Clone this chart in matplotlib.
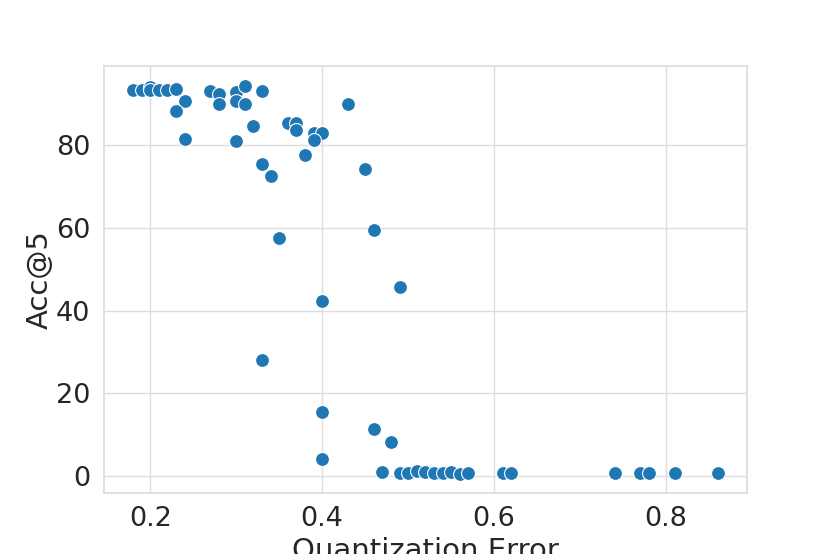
import matplotlib
matplotlib.use("Agg")
import matplotlib.pyplot as plt
import seaborn as sns

quant_error = [0.18, 0.19, 0.20, 0.20, 0.21, 0.22, 0.23, 0.24, 0.23, 0.24,
               0.27, 0.28, 0.28, 0.30, 0.31, 0.30, 0.31, 0.33, 0.30, 0.32,
               0.36, 0.37, 0.37, 0.39, 0.40, 0.39, 0.43, 0.33, 0.34, 0.38,
               0.45, 0.35, 0.46, 0.40, 0.49, 0.33, 0.40, 0.40, 0.46, 0.48,
               0.47, 0.49, 0.50, 0.51, 0.52, 0.53, 0.54, 0.55, 0.56, 0.57,
               0.61, 0.62, 0.74, 0.77, 0.78, 0.81, 0.86]
acc5 = [93.5, 93.3, 94.2, 93.5, 93.3, 93.3, 93.6, 90.7, 88.2, 81.6,
        93.2, 92.5, 90.1, 92.8, 94.4, 90.7, 90.1, 93.1, 81.0, 84.8,
        85.5, 85.5, 83.6, 83.0, 83.0, 81.4, 89.9, 75.6, 72.6, 77.7,
        74.3, 57.5, 59.4, 42.4, 45.6, 28.1, 15.5, 4.1, 11.2, 8.2,
        1.0, 0.65, 0.65, 1.05, 0.8, 0.56, 0.56, 0.8, 0.5, 0.56,
        0.56, 0.56, 0.56, 0.56, 0.56, 0.56, 0.56]

sns.set_theme(style="whitegrid", rc={"grid.color": "#dddddd", "axes.edgecolor": "#dddddd"})
plt.rcParams['font.family'] = ['DejaVu Sans']

fig, ax = plt.subplots(figsize=(8.3, 5.54), dpi=100)
sns.scatterplot(x=quant_error, y=acc5, s=100, color="#1f77b4", ax=ax)
ax.set_xlabel("Quantization Error", fontsize=21, labelpad=3)
ax.set_ylabel("Acc@5", fontsize=21, labelpad=2)
ax.tick_params(labelsize=19.5)
ax.set_xticks([0.2, 0.4, 0.6, 0.8])
ax.set_yticks([0, 20, 40, 60, 80])
fig.savefig("out.png", dpi=100)
